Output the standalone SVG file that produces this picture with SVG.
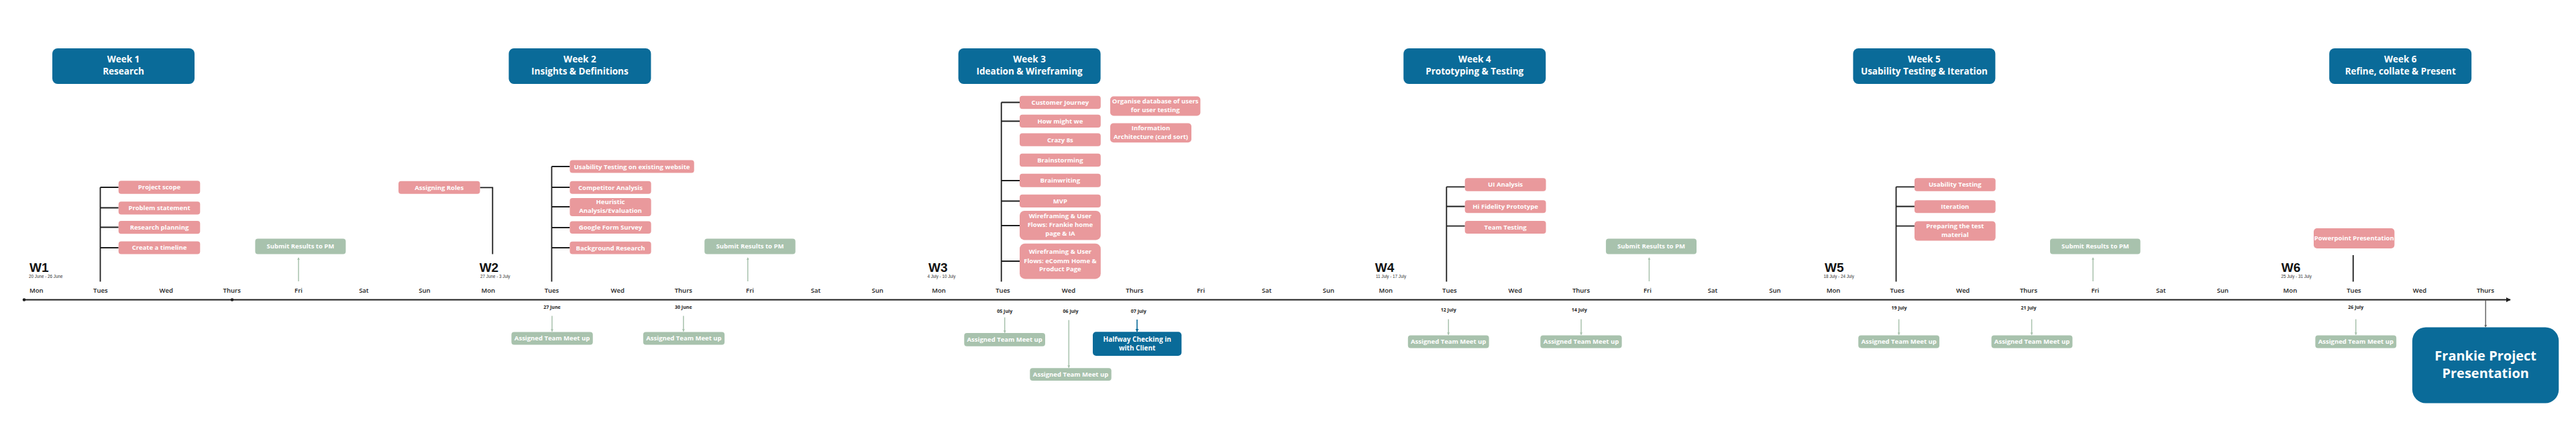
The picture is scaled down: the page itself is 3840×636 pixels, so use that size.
<svg xmlns="http://www.w3.org/2000/svg" width="3840" height="636" viewBox="0 0 3840 636">
<style>
.bg{fill:#ffffff}
.hdr{fill:#0a6b99}
.task{fill:#e9999c}
.grn{fill:#a8c2ad}
.blue{fill:#0a6b99}
text{font-family:"Open Sans","Liberation Sans",sans-serif}
.ht{font-size:13.5px;font-weight:700;fill:#fff;text-anchor:middle}
.tt{font-size:9.5px;font-weight:700;fill:#fff;text-anchor:middle}
.day{font-size:9.5px;font-weight:600;fill:#222;text-anchor:middle}
.dt{font-size:7px;font-weight:700;fill:#222;text-anchor:middle}
.wk{font-family:"Liberation Sans",Arial,sans-serif;font-size:19px;font-weight:700;fill:#111}
.rng{font-family:"Liberation Sans",Arial,sans-serif;font-size:6.3px;fill:#333}
.big{font-size:20px;font-weight:700;fill:#fff;text-anchor:middle}
.br{stroke:#1e1e1e;stroke-width:1.8;fill:none}
.ga{stroke:#a8c2ad;stroke-width:1.5;fill:none}
.ba{stroke:#0a6b99;stroke-width:1.6;fill:none}
.ka{stroke:#666;stroke-width:1.5;fill:none}
</style>
<defs>
<marker id="mg" viewBox="0 0 6 6" refX="5" refY="3" markerWidth="4" markerHeight="4" orient="auto-start-reverse" markerUnits="userSpaceOnUse"><path d="M0,0 L6,3 L0,6 z" fill="#a8c2ad"/></marker>
<marker id="mb" viewBox="0 0 6 6" refX="5" refY="3" markerWidth="5" markerHeight="5" orient="auto" markerUnits="userSpaceOnUse"><path d="M0,0 L6,3 L0,6 z" fill="#0a6b99"/></marker>
<marker id="mk" viewBox="0 0 6 6" refX="5" refY="3" markerWidth="4" markerHeight="4" orient="auto" markerUnits="userSpaceOnUse"><path d="M0,0 L6,3 L0,6 z" fill="#666"/></marker>
<marker id="mt" viewBox="0 0 8 8" refX="7" refY="4" markerWidth="7" markerHeight="7" orient="auto" markerUnits="userSpaceOnUse"><path d="M0,0 L8,4 L0,8 z" fill="#1e1e1e"/></marker>
</defs>
<rect class="bg" x="0" y="0" width="3840" height="636"/>

<g id="timeline">
<line x1="36" y1="446.5" x2="3742" y2="446.5" stroke="#1e1e1e" stroke-width="1.8" marker-end="url(#mt)"/>
<circle cx="36" cy="446.5" r="2.3" fill="#1e1e1e"/>
<circle cx="346" cy="446.5" r="2.3" fill="#1e1e1e"/>
<g id="days">
<text class="day" x="54.3" y="435.5">Mon</text>
<text class="day" x="149.8" y="435.5">Tues</text>
<text class="day" x="247.8" y="435.5">Wed</text>
<text class="day" x="345.7" y="435.5">Thurs</text>
<text class="day" x="445" y="435.5">Fri</text>
<text class="day" x="542.4" y="435.5">Sat</text>
<text class="day" x="633" y="435.5">Sun</text>
<text class="day" x="727.8" y="435.5">Mon</text>
<text class="day" x="822.4" y="435.5">Tues</text>
<text class="day" x="920.8" y="435.5">Wed</text>
<text class="day" x="1018.8" y="435.5">Thurs</text>
<text class="day" x="1118" y="435.5">Fri</text>
<text class="day" x="1216" y="435.5">Sat</text>
<text class="day" x="1308.2" y="435.5">Sun</text>
<text class="day" x="1399.6" y="435.5">Mon</text>
<text class="day" x="1495" y="435.5">Tues</text>
<text class="day" x="1593" y="435.5">Wed</text>
<text class="day" x="1691.4" y="435.5">Thurs</text>
<text class="day" x="1790.2" y="435.5">Fri</text>
<text class="day" x="1888.2" y="435.5">Sat</text>
<text class="day" x="1980.4" y="435.5">Sun</text>
<text class="day" x="2065.7" y="435.5">Mon</text>
<text class="day" x="2160.8" y="435.5">Tues</text>
<text class="day" x="2258.8" y="435.5">Wed</text>
<text class="day" x="2357" y="435.5">Thurs</text>
<text class="day" x="2455.9" y="435.5">Fri</text>
<text class="day" x="2553" y="435.5">Sat</text>
<text class="day" x="2646" y="435.5">Sun</text>
<text class="day" x="2733" y="435.5">Mon</text>
<text class="day" x="2828.2" y="435.5">Tues</text>
<text class="day" x="2926.1" y="435.5">Wed</text>
<text class="day" x="3024" y="435.5">Thurs</text>
<text class="day" x="3123.3" y="435.5">Fri</text>
<text class="day" x="3221.2" y="435.5">Sat</text>
<text class="day" x="3313.5" y="435.5">Sun</text>
<text class="day" x="3413.9" y="435.5">Mon</text>
<text class="day" x="3509" y="435.5">Tues</text>
<text class="day" x="3607" y="435.5">Wed</text>
<text class="day" x="3705" y="435.5">Thurs</text>
</g>
<g id="weeks">
<text class="wk" x="44" y="405">W1</text><text class="rng" x="43" y="414">20 June - 26 June</text>
<text class="wk" x="714.7" y="405">W2</text><text class="rng" x="716" y="414">27 June - 3 July</text>
<text class="wk" x="1384" y="405">W3</text><text class="rng" x="1382.4" y="414">4 July - 10 July</text>
<text class="wk" x="2049.8" y="405">W4</text><text class="rng" x="2051" y="414">11 July - 17 July</text>
<text class="wk" x="2720" y="405">W5</text><text class="rng" x="2718.4" y="414">18 July - 24 July</text>
<text class="wk" x="3400.8" y="405">W6</text><text class="rng" x="3400.4" y="414">25 July - 31 July</text>
</g>
<g id="dates">
<text class="dt" x="822.9" y="460">27 June</text>
<text class="dt" x="1018.8" y="460">30 June</text>
<text class="dt" x="1497.7" y="466">05 July</text>
<text class="dt" x="1596" y="466">06 July</text>
<text class="dt" x="1697.3" y="466">07 July</text>
<text class="dt" x="2159.2" y="463.5">12 July</text>
<text class="dt" x="2354.3" y="463.5">14 July</text>
<text class="dt" x="2831" y="461">19 July</text>
<text class="dt" x="3024" y="461">21 July</text>
<text class="dt" x="3511.8" y="460">26 July</text>
</g>
</g>

<g id="connectors">
<path class="br" d="M149.5 419.5 V279 M149.5 279 H176.7 M149.5 309.5 H176.7 M149.5 338.5 H176.7 M149.5 369 H176.7"/>
<path class="br" d="M715.5 279.3 H734.3 V378.5"/>
<path class="br" d="M822.4 419.5 V248 M822.4 248 H849.4 M822.4 279 H849.4 M822.4 308 H849.4 M822.4 339 H849.4 M822.4 369 H849.4"/>
<path class="br" d="M1492.7 419.5 V152.5 M1492.7 152.5 H1520 M1492.7 180.5 H1520 M1492.7 269 H1520 M1492.7 299.5 H1520 M1492.7 336 H1520 M1492.7 389 H1520"/>
<path class="br" d="M2156.3 419.5 V278.3 M2156.3 278.3 H2183.7 M2156.3 307.5 H2183.7 M2156.3 336.7 H2183.7"/>
<path class="br" d="M2826.5 419.5 V278.3 M2826.5 278.3 H2853.9 M2826.5 307.5 H2853.9 M2826.5 336.7 H2853.9"/>
<path class="br" d="M3507.8 380 V419.5"/>
<line class="ga" x1="445" y1="419" x2="445" y2="384" marker-end="url(#mg)"/>
<line class="ga" x1="1114.7" y1="419" x2="1114.7" y2="384" marker-end="url(#mg)"/>
<line class="ga" x1="2458.4" y1="419" x2="2458.4" y2="384" marker-end="url(#mg)"/>
<line class="ga" x1="3120" y1="419" x2="3120" y2="384" marker-end="url(#mg)"/>
<line class="ga" x1="822.9" y1="470.6" x2="822.9" y2="493.5" marker-end="url(#mg)"/>
<line class="ga" x1="1018.8" y1="470.6" x2="1018.8" y2="493.5" marker-end="url(#mg)"/>
<line class="ga" x1="1497.7" y1="472.7" x2="1497.7" y2="495.5" marker-end="url(#mg)"/>
<line class="ga" x1="1593.3" y1="476.7" x2="1593.3" y2="547.5" marker-end="url(#mg)"/>
<line class="ba" x1="1695" y1="476" x2="1695" y2="494" marker-end="url(#mb)"/>
<line class="ga" x1="2159.2" y1="475.5" x2="2159.2" y2="498.5" marker-end="url(#mg)"/>
<line class="ga" x1="2357" y1="475.5" x2="2357" y2="498.5" marker-end="url(#mg)"/>
<line class="ga" x1="2830.6" y1="475.5" x2="2830.6" y2="498.5" marker-end="url(#mg)"/>
<line class="ga" x1="3028.6" y1="475.5" x2="3028.6" y2="498.5" marker-end="url(#mg)"/>
<line class="ga" x1="3511.8" y1="475.5" x2="3511.8" y2="498.5" marker-end="url(#mg)"/>
<line class="ka" x1="3705.3" y1="447" x2="3705.3" y2="487" marker-end="url(#mk)"/>
</g>

<g id="week1">
<g id="hdr1"><rect class="hdr" x="78" y="72" width="212" height="53" rx="8"/><text class="ht" x="184" y="93.3">Week 1</text><text class="ht" x="184" y="111">Research</text></g>
<g id="t-project-scope"><rect class="task" x="176.7" y="269.2" width="121.6" height="19.5" rx="4"/><text class="tt" x="237.5" y="282.4">Project scope</text></g>
<g id="t-problem"><rect class="task" x="176.7" y="300.2" width="121.6" height="19.3" rx="4"/><text class="tt" x="237.5" y="313.3">Problem statement</text></g>
<g id="t-research-planning"><rect class="task" x="176.7" y="329" width="121.6" height="19.3" rx="4"/><text class="tt" x="237.5" y="342.1">Research planning</text></g>
<g id="t-timeline"><rect class="task" x="176.7" y="359.4" width="121.6" height="19.2" rx="4"/><text class="tt" x="237.5" y="372.4">Create a timeline</text></g>
<g id="submit1"><rect class="grn" x="380.4" y="355.4" width="135" height="23.1" rx="4"/><text class="tt" x="447.9" y="370.3">Submit Results to PM</text></g>
<g id="t-roles"><rect class="task" x="594" y="269.8" width="121.5" height="19" rx="4"/><text class="tt" x="654.7" y="282.7">Assigning Roles</text></g>
</g>

<g id="week2">
<g id="hdr2"><rect class="hdr" x="758.4" y="72" width="212" height="53" rx="8"/><text class="ht" x="864.4" y="93.3">Week 2</text><text class="ht" x="864.4" y="111">Insights &amp; Definitions</text></g>
<g id="t-usab-existing"><rect class="task" x="849.4" y="238.5" width="185.3" height="19.1" rx="4"/><text class="tt" x="942" y="251.5">Usability Testing on existing website</text></g>
<g id="t-competitor"><rect class="task" x="849.4" y="269.8" width="121.2" height="19" rx="4"/><text class="tt" x="910" y="282.7">Competitor Analysis</text></g>
<g id="t-heuristic"><rect class="task" x="849.4" y="294.9" width="121.2" height="27.2" rx="4"/><text class="tt" x="910" y="304.4">Heuristic</text><text class="tt" x="910" y="317.4">Analysis/Evaluation</text></g>
<g id="t-google"><rect class="task" x="849.4" y="329.4" width="121.2" height="18.6" rx="4"/><text class="tt" x="910" y="342">Google Form Survey</text></g>
<g id="t-background"><rect class="task" x="849.4" y="359.8" width="121.2" height="18.7" rx="4"/><text class="tt" x="910" y="372.5">Background Research</text></g>
<g id="submit2"><rect class="grn" x="1050.2" y="355.4" width="135.5" height="23.1" rx="4"/><text class="tt" x="1118" y="370.3">Submit Results to PM</text></g>
<g id="meet2a"><rect class="grn" x="762.4" y="494.5" width="121.3" height="19.1" rx="4"/><text class="tt" x="823" y="507.4">Assigned Team Meet up</text></g>
<g id="meet2b"><rect class="grn" x="958.8" y="494.5" width="121.3" height="19.1" rx="4"/><text class="tt" x="1019.4" y="507.4">Assigned Team Meet up</text></g>
</g>

<g id="week3">
<g id="hdr3"><rect class="hdr" x="1428.6" y="72" width="212" height="53" rx="8"/><text class="ht" x="1534.6" y="93.3">Week 3</text><text class="ht" x="1534.6" y="111">Ideation &amp; Wireframing</text></g>
<g id="t-journey"><rect class="task" x="1520" y="142.8" width="120.8" height="19.5" rx="4"/><text class="tt" x="1580.4" y="155.9">Customer Journey</text></g>
<g id="t-hmw"><rect class="task" x="1520" y="170.8" width="120.8" height="19.1" rx="4"/><text class="tt" x="1580.4" y="183.7">How might we</text></g>
<g id="t-crazy8"><rect class="task" x="1520" y="198.4" width="120.8" height="19.4" rx="4"/><text class="tt" x="1580.4" y="211.5">Crazy 8s</text></g>
<g id="t-brainstorm"><rect class="task" x="1520" y="228.8" width="120.8" height="19.5" rx="4"/><text class="tt" x="1580.4" y="241.9">Brainstorming</text></g>
<g id="t-brainwriting"><rect class="task" x="1520" y="258.8" width="120.8" height="19.9" rx="4"/><text class="tt" x="1580.4" y="272.1">Brainwriting</text></g>
<g id="t-mvp"><rect class="task" x="1520" y="289.7" width="120.8" height="19.4" rx="4"/><text class="tt" x="1580.4" y="302.8">MVP</text></g>
<g id="t-wf1"><rect class="task" x="1520" y="314" width="120.8" height="43.4" rx="7"/><text class="tt" x="1580.4" y="325.1">Wireframing &amp; User</text><text class="tt" x="1580.4" y="337.7">Flows: Frankie home</text><text class="tt" x="1580.4" y="350.7">page &amp; IA</text></g>
<g id="t-wf2"><rect class="task" x="1520" y="362.7" width="120.8" height="52.7" rx="8"/><text class="tt" x="1580.4" y="378.2">Wireframing &amp; User</text><text class="tt" x="1580.4" y="391.6">Flows: eComm Home &amp;</text><text class="tt" x="1580.4" y="404.2">Product Page</text></g>
<g id="t-organise"><rect class="task" x="1655" y="143.6" width="134.4" height="28.8" rx="5"/><text class="tt" x="1722.2" y="154.3">Organise database of users</text><text class="tt" x="1722.2" y="166.9">for user testing</text></g>
<g id="t-ia"><rect class="task" x="1655" y="183.4" width="121" height="28.8" rx="5"/><text class="tt" x="1715.5" y="194.1">Information</text><text class="tt" x="1715.5" y="207.1">Architecture (card sort)</text></g>
<g id="meet3a"><rect class="grn" x="1437.3" y="496" width="120.7" height="19.7" rx="4"/><text class="tt" x="1497.7" y="509.2">Assigned Team Meet up</text></g>
<g id="meet3b"><rect class="grn" x="1535.3" y="548.3" width="121.4" height="18.6" rx="4"/><text class="tt" x="1596" y="561">Assigned Team Meet up</text></g>
<g id="halfway"><rect class="blue" x="1629" y="494.3" width="132.3" height="35.7" rx="5"/><text class="tt" x="1695.2" y="509.3" style="font-size:10px">Halfway Checking in</text><text class="tt" x="1695.2" y="521.6" style="font-size:10px">with Client</text></g>
</g>

<g id="week4">
<g id="hdr4"><rect class="hdr" x="2092.2" y="72" width="212" height="53" rx="8"/><text class="ht" x="2198.2" y="93.3">Week 4</text><text class="ht" x="2198.2" y="111">Prototyping &amp; Testing</text></g>
<g id="t-ui"><rect class="task" x="2183.7" y="265.3" width="120.8" height="19.5" rx="4"/><text class="tt" x="2244.1" y="278.4">UI Analysis</text></g>
<g id="t-hifi"><rect class="task" x="2183.7" y="298.2" width="120.8" height="19" rx="4"/><text class="tt" x="2244.1" y="311.1">Hi Fidelity Prototype</text></g>
<g id="t-teamtest"><rect class="task" x="2183.7" y="329" width="120.8" height="19" rx="4"/><text class="tt" x="2244.1" y="341.9">Team Testing</text></g>
<g id="submit4"><rect class="grn" x="2393.9" y="355.4" width="135.1" height="23.1" rx="4"/><text class="tt" x="2461.5" y="370.3">Submit Results to PM</text></g>
<g id="meet4a"><rect class="grn" x="2098.8" y="499.4" width="120.8" height="19.1" rx="4"/><text class="tt" x="2159.2" y="512.3">Assigned Team Meet up</text></g>
<g id="meet4b"><rect class="grn" x="2296.3" y="499.4" width="121.3" height="19.1" rx="4"/><text class="tt" x="2357" y="512.3">Assigned Team Meet up</text></g>
</g>

<g id="week5">
<g id="hdr5"><rect class="hdr" x="2762.4" y="72" width="212" height="53" rx="8"/><text class="ht" x="2868.4" y="93.3">Week 5</text><text class="ht" x="2868.4" y="111">Usability Testing &amp; Iteration</text></g>
<g id="t-usab"><rect class="task" x="2853.9" y="265.3" width="120.8" height="19.5" rx="4"/><text class="tt" x="2914.3" y="278.4">Usability Testing</text></g>
<g id="t-iter"><rect class="task" x="2853.9" y="298.2" width="120.8" height="19" rx="4"/><text class="tt" x="2914.3" y="311.1">Iteration</text></g>
<g id="t-prep"><rect class="task" x="2853.9" y="329.4" width="120.8" height="29.2" rx="5"/><text class="tt" x="2914.3" y="340.1">Preparing the test</text><text class="tt" x="2914.3" y="352.7">material</text></g>
<g id="submit5"><rect class="grn" x="3056" y="355.4" width="134.6" height="23.1" rx="4"/><text class="tt" x="3123.3" y="370.3">Submit Results to PM</text></g>
<g id="meet5a"><rect class="grn" x="2770.2" y="499.4" width="120.8" height="19.1" rx="4"/><text class="tt" x="2830.6" y="512.3">Assigned Team Meet up</text></g>
<g id="meet5b"><rect class="grn" x="2968.6" y="499.4" width="120.8" height="19.1" rx="4"/><text class="tt" x="3029" y="512.3">Assigned Team Meet up</text></g>
</g>

<g id="week6">
<g id="hdr6"><rect class="hdr" x="3472.2" y="72" width="212" height="53" rx="8"/><text class="ht" x="3578.2" y="93.3">Week 6</text><text class="ht" x="3578.2" y="111">Refine, collate &amp; Present</text></g>
<g id="t-ppt"><rect class="task" x="3449" y="340" width="120.4" height="30" rx="5"/><text class="tt" x="3509.2" y="358.4">Powerpoint Presentation</text></g>
<g id="meet6"><rect class="grn" x="3451.4" y="499.4" width="120.8" height="19.1" rx="4"/><text class="tt" x="3511.8" y="512.3">Assigned Team Meet up</text></g>
<g id="frankie"><rect class="blue" x="3596" y="487.6" width="218.3" height="112.8" rx="20"/><text class="big" x="3705.2" y="536.5">Frankie Project</text><text class="big" x="3705.2" y="563">Presentation</text></g>
</g>
</svg>
